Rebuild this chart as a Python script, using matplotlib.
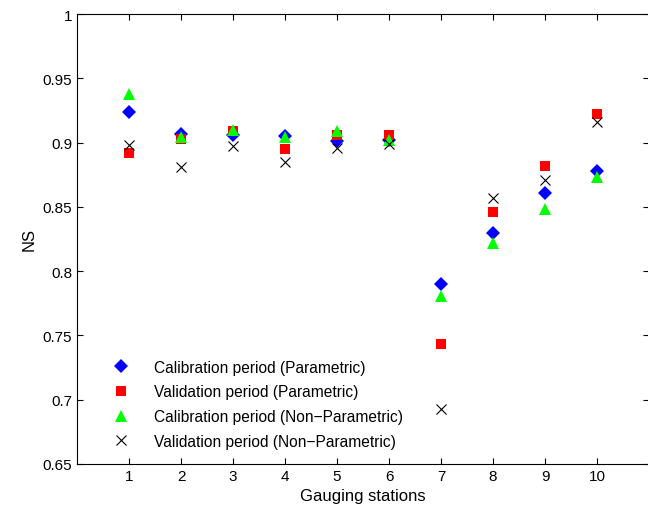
import matplotlib.pyplot as plt
from matplotlib.ticker import FuncFormatter

plt.rcParams['font.family'] = ['Liberation Sans', 'DejaVu Sans']

stations = [1, 2, 3, 4, 5, 6, 7, 8, 9, 10]
cal_param = [0.924, 0.907, 0.906, 0.905, 0.901, 0.902, 0.790, 0.830, 0.861, 0.878]
val_param = [0.892, 0.903, 0.909, 0.895, 0.906, 0.906, 0.743, 0.846, 0.882, 0.922]
cal_nonparam = [0.938, 0.904, 0.910, 0.904, 0.909, 0.902, 0.781, 0.822, 0.848, 0.873]
val_nonparam = [0.898, 0.881, 0.897, 0.885, 0.896, 0.899, 0.693, 0.857, 0.871, 0.916]

labels = ["Calibration period (Parametric)", "Validation period (Parametric)",
          "Calibration period (Non\u2212Parametric)", "Validation period (Non\u2212Parametric)"]

fig = plt.figure(figsize=(6.48, 5.10), dpi=100)
ax = fig.add_axes([77 / 648, 45 / 510, 572 / 648, 450 / 510])

ax.plot(stations, cal_param, 'D', color='blue', markersize=7, markeredgewidth=0, label=labels[0])
ax.plot(stations, val_param, 's', color='red', markersize=7, markeredgewidth=0, label=labels[1])
ax.plot(stations, cal_nonparam, '^', color='lime', markersize=9, markeredgewidth=0, label=labels[2])
ax.plot(stations, val_nonparam, 'x', color='black', markersize=7, markeredgewidth=0.8, label=labels[3])

ax.set_xlim(0, 11)
ax.set_ylim(0.65, 1)
ax.set_xticks(stations)
ax.set_yticks([0.65, 0.7, 0.75, 0.8, 0.85, 0.9, 0.95, 1])
ax.yaxis.set_major_formatter(FuncFormatter(lambda v, p: f"{v:g}"))
ax.tick_params(direction='in', top=True, right=True, length=4, labelsize=11)
ax.set_xlabel("Gauging stations", fontsize=12, labelpad=4)
ax.set_ylabel("NS", fontsize=12)

ax.legend(loc='lower left', bbox_to_anchor=(0.025, 0.003), frameon=False, fontsize=11.2,
          handletextpad=1.1, labelspacing=0.62)

fig.savefig("out.png", dpi=100)
